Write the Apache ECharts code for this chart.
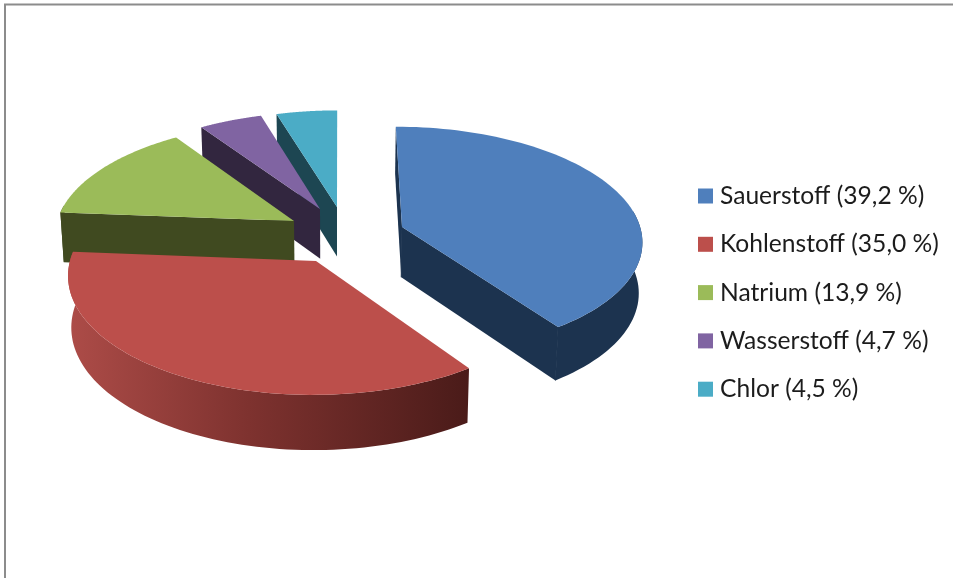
<!DOCTYPE html>
<html>
<head>
<meta charset="utf-8">
<style>html,body{margin:0;padding:0;background:#fff}#chart{width:953px;height:578px}</style>
<script src="https://cdn.jsdelivr.net/npm/echarts@6/dist/echarts.min.js"></script>
</head>
<body>
<div id="chart"></div>
<script>
// Chart data
const elements = ['Sauerstoff', 'Kohlenstoff', 'Natrium', 'Wasserstoff', 'Chlor'];
const shares = [39.2, 35.0, 13.9, 4.7, 4.5];

// Slice styling, in the same order as the elements
const topColors = ['#4F7FBC', '#BC4F4B', '#9BBB59', '#8064A2', '#4BACC6'];
const wallColors = ['#1C334F', '#4E1E1C', '#404A20', '#32263F', '#1D4652'];
const sliceTips = [[402, 227], [316, 261], [294, 221], [320, 209], [337, 207]];
const paintOrder = [4, 3, 2, 0, 1];

// Tilted-disc projection: plane coordinates in pie radii, screen in pixels
const view = { cx: 339, cy: 235, a: 240, b: 113, k: 0.11, depth: 50.5, depthK: 0.07, shrink: 0.988 };

function toScreen(X, Y, lower) {
  const w = 1 + view.k * Y;
  let x = view.cx + view.a * X / w;
  let y = view.cy - view.b * Y / w;
  if (lower) {
    x = view.cx + (x - view.cx) * view.shrink;
    y += view.depth / (1 + view.depthK * Y);
  }
  return [x, y];
}

function toPlane(sx, sy) {
  const xn = (sx - view.cx) / view.a;
  const yn = (view.cy - sy) / view.b;
  const Y = yn / (1 - view.k * yn);
  return [xn * (1 + view.k * Y), Y];
}

const total = shares.reduce((s, v) => s + v, 0);
let running = 0;
const spans = shares.map(v => {
  const span = [running / total * 2 * Math.PI, (running + v) / total * 2 * Math.PI];
  running += v;
  return span;
});

function sliceRenderer(idx) {
  return function (params, api) {
    const from = api.value(0);
    const to = api.value(1);
    const tip = toPlane(sliceTips[idx][0], sliceTips[idx][1]);
    const steps = 80;
    const angles = [];
    for (let i = 0; i <= steps; i++) angles.push(from + (to - from) * i / steps);
    const rimAt = t => [tip[0] + Math.sin(t), tip[1] + Math.cos(t)];
    const up = p => toScreen(p[0], p[1], false);
    const down = p => toScreen(p[0], p[1], true);

    const rim = angles.map(rimAt);
    // Only the part of the rim that faces the viewer gets a wall
    const frontRim = angles.filter(t => Math.cos(t) < 0.15).map(rimAt);
    const tipUp = up(tip);
    const tipLow = down(tip);
    const first = rim[0], last = rim[steps];
    const wall = wallColors[idx];
    const rimFill = idx === 1
      ? new echarts.graphic.LinearGradient(0, 0, 1, 0, [
          { offset: 0, color: '#AD4C48' },
          { offset: 0.45, color: '#7E322F' },
          { offset: 1, color: '#4A1B19' }
        ])
      : wall;
    const poly = (points, fill) => ({
      type: 'polygon',
      shape: { points: points },
      style: { fill: fill, stroke: 'none', lineWidth: 0 },
      silent: true
    });
    // Vertical hairline closes the antialiasing gap where two wall faces meet
    const corner = p => ({
      type: 'polyline',
      shape: { points: [up(p), down(p)] },
      style: { fill: null, stroke: wall, lineWidth: 1 },
      silent: true
    });

    const children = [];
    if (Math.sin(from) <= 1e-9) {
      children.push(poly([tipUp, up(first), down(first), tipLow], wall));
    }
    if (Math.sin(to) > 0) {
      children.push(poly([tipUp, up(last), down(last), tipLow], wall));
      children.push(corner(last));
      if (Math.sin(from) <= 1e-9) children.push(corner(tip));
    }
    if (frontRim.length > 1) {
      children.push(poly(frontRim.map(up).concat(frontRim.map(down).reverse()), rimFill));
    }
    children.push(poly([tipUp].concat(rim.map(up)), topColors[idx]));
    return { type: 'group', children: children };
  };
}

const legendLabel = i => elements[i] + ' (' + shares[i].toFixed(1).replace('.', ',') + ' %)';

const chart = echarts.init(document.getElementById('chart'), null, { renderer: 'canvas' });
chart.setOption({
  animation: false,
  backgroundColor: '#ffffff',
  tooltip: { show: false },
  legend: {
    orient: 'vertical',
    left: 698,
    top: 183,
    padding: 0,
    icon: 'rect',
    itemWidth: 15,
    itemHeight: 15,
    itemGap: 22.3,
    selectedMode: false,
    data: elements.map((_, i) => legendLabel(i)),
    textStyle: { fontFamily: 'Lato', fontSize: 24.6, color: '#1c1c1c', lineHeight: 26, padding: [0, 0, 0, 2] }
  },
  graphic: [{
    type: 'polyline',
    silent: true,
    shape: { points: [[5, 578], [5, 4.5], [953, 4.5]] },
    style: { stroke: '#8c8c8c', lineWidth: 2, fill: null }
  }],
  series: paintOrder.map((idx, order) => ({
    type: 'custom',
    name: legendLabel(idx),
    coordinateSystem: 'none',
    z: 2 + order,
    itemStyle: { color: topColors[idx] },
    renderItem: sliceRenderer(idx),
    data: [spans[idx]]
  }))
});
</script>
</body>
</html>
